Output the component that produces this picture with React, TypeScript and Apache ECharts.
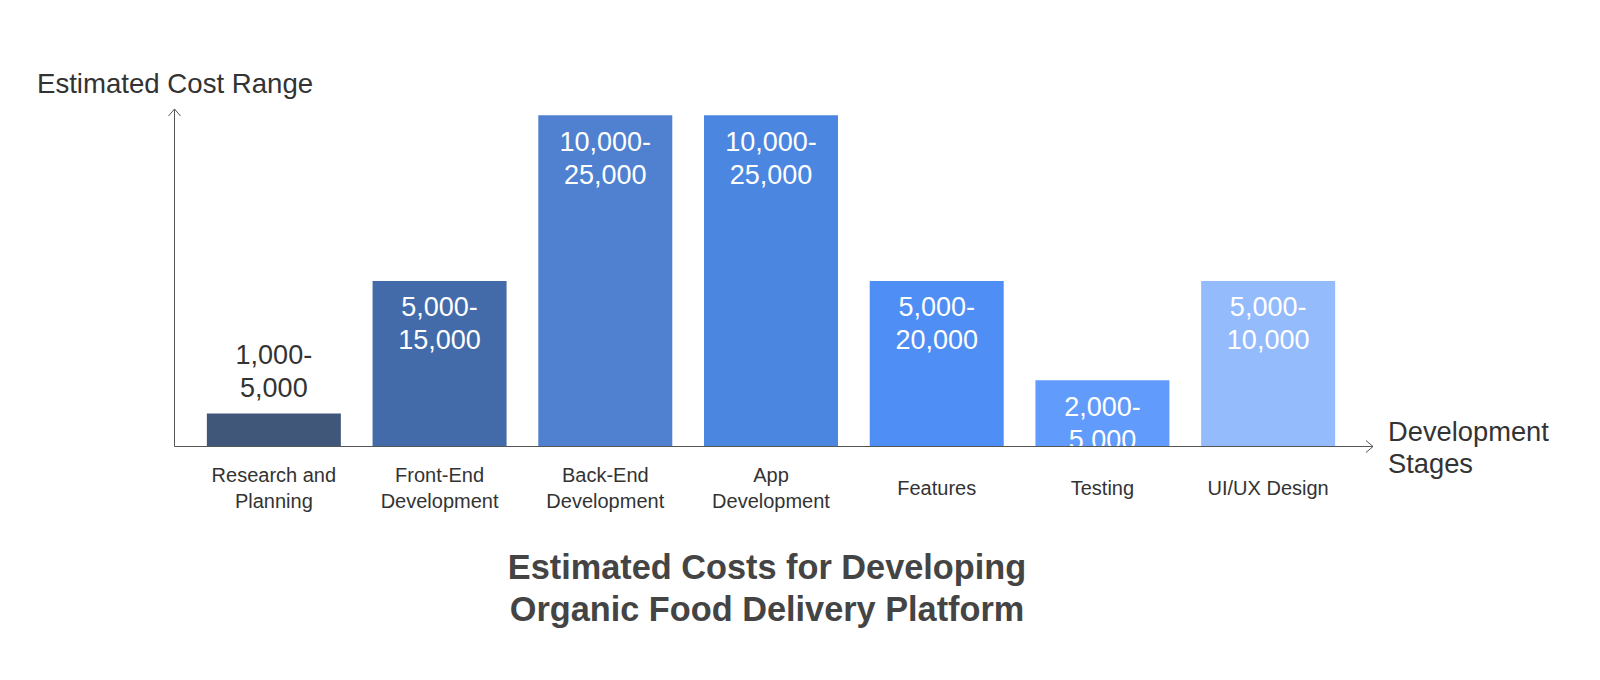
import React, { useEffect, useRef } from "react";
import * as echarts from "echarts";

const categories = [
  "Research and\nPlanning",
  "Front-End\nDevelopment",
  "Back-End\nDevelopment",
  "App\nDevelopment",
  "Features",
  "Testing",
  "UI/UX Design",
];
const lowCost = [1000, 5000, 10000, 10000, 5000, 2000, 5000];
const highCost = [5000, 15000, 25000, 25000, 20000, 5000, 10000];
const barColors = ["#41577A", "#436BAA", "#4F81D0", "#4B86E1", "#4E8EF5", "#619CFC", "#94BBFC"];
const yAxisName = "Estimated Cost Range";
const xAxisName = "Development\nStages";
const chartTitle = "Estimated Costs for Developing\nOrganic Food Delivery Platform";

const FONT = "'Liberation Sans', Arial, Helvetica, sans-serif";
const fmt = (v: number) => v.toLocaleString("en-US");

export default function App() {
  const ref = useRef<HTMLDivElement>(null);
  useEffect(() => {
    if (!ref.current) return;
    const chart = echarts.init(ref.current, null, { renderer: "svg" });
    const axisColor = "#555555";
    chart.setOption({
      animation: false,
      backgroundColor: "#ffffff",
      textStyle: { fontFamily: FONT },
      grid: { left: 191, width: 1160, top: 115.3, bottom: 233.5, containLabel: false },
      xAxis: {
        type: "category",
        data: categories,
        axisLine: { show: false },
        axisTick: { show: false },
        axisLabel: {
          color: "#333333",
          fontSize: 20,
          lineHeight: 25.5,
          fontFamily: FONT,
          verticalAlign: "middle",
          margin: 41.5,
          interval: 0,
        },
      },
      yAxis: { type: "value", min: 0, max: 10000, show: false, splitLine: { show: false } },
      series: [
        {
          type: "bar",
          barWidth: 134,
          data: lowCost.map((v, i) => ({
            value: v,
            itemStyle: { color: barColors[i] },
            label:
              i === 0
                ? { position: "top", color: "#333333", distance: 9 }
                : { position: "insideTop", color: "#ffffff", distance: 10 },
          })),
          label: {
            show: true,
            fontSize: 27,
            lineHeight: 33,
            fontFamily: FONT,
            formatter: (p: any) => `${fmt(lowCost[p.dataIndex])}-\n${fmt(highCost[p.dataIndex])}`,
          },
        },
      ],
      graphic: [
        {
          type: "line",
          z: 100,
          shape: { x1: 174.5, y1: 446.5, x2: 174.5, y2: 109 },
          style: { stroke: axisColor, lineWidth: 1 },
        },
        {
          type: "polyline",
          z: 100,
          shape: { points: [[168.5, 116], [174.5, 109], [180.5, 116]] },
          style: { stroke: axisColor, lineWidth: 1, fill: null },
        },
        {
          type: "line",
          z: 100,
          shape: { x1: 174.5, y1: 446.5, x2: 1373, y2: 446.5 },
          style: { stroke: axisColor, lineWidth: 1 },
        },
        {
          type: "polyline",
          z: 100,
          shape: { points: [[1366, 440.5], [1373, 446.5], [1366, 452.5]] },
          style: { stroke: axisColor, lineWidth: 1, fill: null },
        },
        {
          type: "text",
          x: 37,
          y: 83,
          style: {
            text: yAxisName,
            fontSize: 27.6,
            fontFamily: FONT,
            fill: "#333333",
            textVerticalAlign: "middle",
          },
        },
        {
          type: "text",
          x: 1388,
          y: 447,
          style: {
            text: xAxisName,
            fontSize: 27.3,
            lineHeight: 32,
            fontFamily: FONT,
            fill: "#333333",
            textVerticalAlign: "middle",
          },
        },
        {
          type: "text",
          x: 767,
          y: 588,
          style: {
            text: chartTitle,
            fontSize: 34.3,
            fontWeight: "bold",
            lineHeight: 42,
            fontFamily: FONT,
            fill: "#444444",
            textAlign: "center",
            textVerticalAlign: "middle",
          },
        },
      ],
    });
    return () => chart.dispose();
  }, []);
  return (
    <div
      ref={ref}
      style={{ position: "absolute", left: 0, top: 0, width: 1600, height: 680 }}
    />
  );
}
